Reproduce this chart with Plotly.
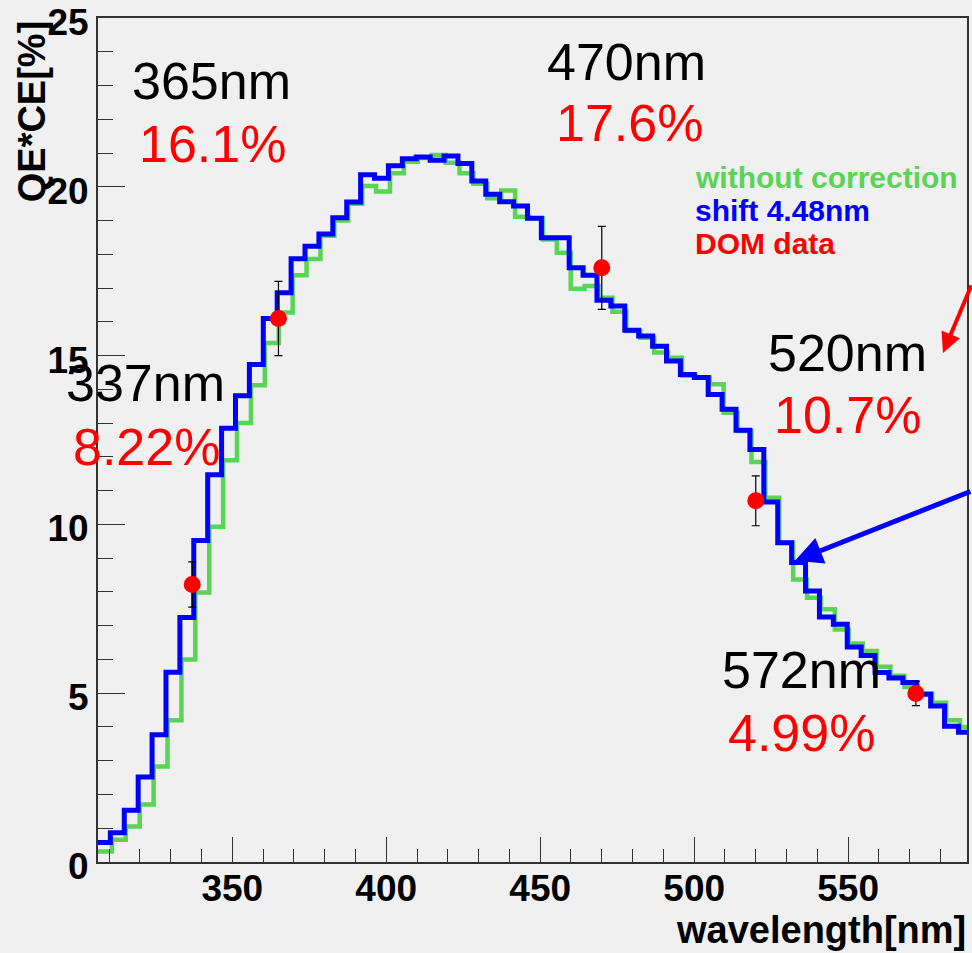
import plotly.graph_objects as go

# ---------------- data ----------------
bin_start_nm = 305.9
bin_width_nm = 4.515
green_offset_nm = 0.5

qe_shift = [0.58, 0.87, 1.53, 2.52, 3.77, 5.62, 7.24, 9.52, 11.47, 12.85,
            13.81, 14.74, 16.10, 16.86, 17.87, 18.24, 18.60, 19.08, 19.55, 20.36,
            20.25, 20.62, 20.83, 20.88, 20.79, 20.91, 20.69, 20.17, 19.78, 19.56,
            19.43, 19.07, 18.49, 18.49, 17.60, 17.38, 16.64, 16.47, 15.75, 15.58,
            15.28, 14.84, 14.44, 14.35, 13.85, 13.41, 12.79, 12.22, 10.66, 9.46,
            8.87, 8.03, 7.26, 7.04, 6.37, 6.12, 5.61, 5.45, 5.32, 4.97,
            4.62, 4.02, 3.84]

qe_raw = [0.31, 0.66, 1.05, 1.70, 2.83, 4.20, 6.00, 7.98, 9.93, 11.90,
          13.00, 14.12, 15.37, 16.28, 17.38, 17.86, 18.55, 19.00, 19.50, 20.02,
          19.86, 20.40, 20.74, 20.85, 20.94, 20.71, 20.40, 20.09, 19.66, 19.89,
          19.11, 19.07, 18.44, 18.05, 16.98, 17.06, 16.71, 16.30, 15.73, 15.53,
          15.09, 14.94, 14.40, 14.35, 14.15, 13.31, 12.77, 11.85, 10.79, 9.46,
          8.37, 7.83, 7.49, 6.89, 6.47, 6.25, 5.78, 5.52, 5.18, 4.99,
          4.72, 4.20, 4.00]

dom_nm = [337, 365, 470, 520, 572]
dom_qe = [8.22, 16.1, 17.6, 10.7, 4.99]
dom_err = [0.67, 1.10, 1.23, 0.74, 0.36]
dom_pct_text = ["8.22%", "16.1%", "17.6%", "10.7%", "4.99%"]

legend_texts = ["without correction", "shift 4.48nm", "DOM data"]

x_range = [306.4, 588.6]
y_range = [0, 25]

# label positions (layout only)
nm_label_pos = [(321.9, 14.19), (343.3, 23.13), (478.1, 23.70), (549.7, 15.08), (534.7, 5.69)]
pct_label_pos = [(322.2, 12.29), (343.7, 21.27), (479.1, 21.89), (549.7, 13.24), (534.7, 3.82)]

GREEN = "#59d454"
BLUE = "#0000ff"
RED = "#ff0000"
BG = "#f0f0f0"
AXC = "#333333"
FONT = "Liberation Sans"


def hist_xy(start, width, vals):
    xs = [start + i * width for i in range(len(vals) + 1)]
    ys = list(vals) + [vals[-1]]
    return xs, ys


fig = go.Figure()

gx, gy = hist_xy(bin_start_nm + green_offset_nm, bin_width_nm, qe_raw)
fig.add_trace(go.Scatter(x=gx, y=gy, mode="lines", line=dict(color=GREEN, width=4.5, shape="hv"),
                         hoverinfo="skip", showlegend=False))

bx, by = hist_xy(bin_start_nm, bin_width_nm, qe_shift)
fig.add_trace(go.Scatter(x=bx, y=by, mode="lines", line=dict(color=BLUE, width=5, shape="hv"),
                         hoverinfo="skip", showlegend=False))

fig.add_trace(go.Scatter(x=dom_nm, y=dom_qe, mode="markers",
                         marker=dict(color=RED, size=17, symbol="circle"),
                         error_y=dict(type="data", array=dom_err, color="black", thickness=1.2, width=4),
                         showlegend=False))

annotations = []
for (x, y), nm in zip(nm_label_pos, dom_nm):
    annotations.append(dict(x=x, y=y, xref="x", yref="y", text=f"{nm}nm", showarrow=False,
                            font=dict(family=FONT, size=52, color="black"),
                            xanchor="center", yanchor="middle"))
for (x, y), t in zip(pct_label_pos, dom_pct_text):
    annotations.append(dict(x=x, y=y, xref="x", yref="y", text=t, showarrow=False,
                            font=dict(family=FONT, size=52, color=RED),
                            xanchor="center", yanchor="middle"))

legend_colors = [GREEN, BLUE, RED]
legend_y = [20.29, 19.31, 18.31]
for t, c, yy in zip(legend_texts, legend_colors, legend_y):
    annotations.append(dict(x=499.6, y=yy, xref="x", yref="y", text=t, showarrow=False,
                            font=dict(family=FONT, size=30, color=c, weight="bold"),
                            xanchor="left", yanchor="middle"))

# arrows
annotations.append(dict(x=532.7, y=8.92, xref="x", yref="y", ax=177, ay=-70, axref="pixel", ayref="pixel",
                        text="", showarrow=True, arrowhead=2, arrowsize=1.1, arrowwidth=5,
                        arrowcolor=BLUE, standoff=0))
annotations.append(dict(x=580.8, y=15.08, xref="x", yref="y", ax=29, ay=-69, axref="pixel", ayref="pixel",
                        text="", showarrow=True, arrowhead=2, arrowsize=1.0, arrowwidth=4,
                        arrowcolor=RED, standoff=0))

# axis titles
annotations.append(dict(x=-0.0766, y=0.89, xref="paper", yref="paper", text="QE*CE[%]", textangle=-90,
                        showarrow=False, font=dict(family=FONT, size=38, color="black", weight="bold"),
                        xanchor="center", yanchor="middle"))
annotations.append(dict(x=1.0015, y=-0.081, xref="paper", yref="paper", text="wavelength[nm]",
                        showarrow=False, font=dict(family=FONT, size=38, color="black", weight="bold"),
                        xanchor="right", yanchor="middle"))

fig.update_layout(
    width=972, height=953,
    margin=dict(l=98, r=5, t=18, b=91, autoexpand=False),
    paper_bgcolor=BG, plot_bgcolor=BG,
    annotations=annotations,
    showlegend=False,
)

fig.update_xaxes(range=x_range, showgrid=False, zeroline=False, automargin=False,
                 showline=True, linecolor=AXC, linewidth=2, mirror=True,
                 ticks="inside", ticklen=25, tickwidth=1.2, tickcolor=AXC,
                 tick0=0, dtick=50, ticklabelstandoff=-7,
                 minor=dict(ticks="inside", ticklen=13, tickwidth=1.2, tickcolor=AXC, dtick=10, tick0=0),
                 tickfont=dict(family=FONT, size=37, color="black", weight="bold"))
fig.update_yaxes(range=y_range, showgrid=False, zeroline=False, automargin=False,
                 showline=True, linecolor=AXC, linewidth=2, mirror=True,
                 ticks="inside", ticklen=27, tickwidth=1.2, tickcolor=AXC,
                 tick0=0, dtick=5, ticklabeloverflow="allow", ticklabelshift=4,
                 minor=dict(ticks="inside", ticklen=15, tickwidth=1.2, tickcolor=AXC, dtick=1, tick0=0),
                 tickfont=dict(family=FONT, size=37, color="black", weight="bold"))

fig.write_html("out.html")
